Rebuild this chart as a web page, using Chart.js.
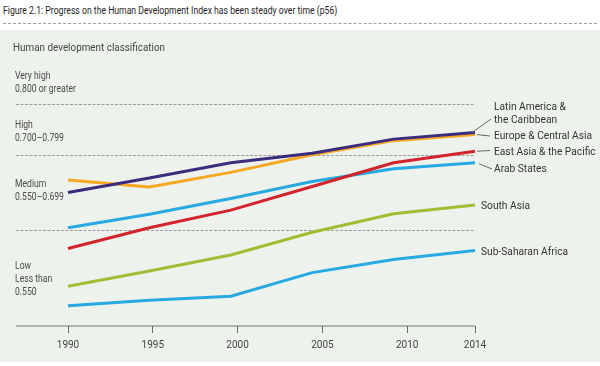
<!DOCTYPE html>
<html>
<head>
<meta charset="utf-8">
<script src="https://cdn.jsdelivr.net/npm/chart.js@4.4.1/dist/chart.umd.min.js"></script>
<style>
  body { margin: 0; background: #fff; }
  #wrap { position: relative; width: 600px; height: 366px; overflow: hidden; }
  #title { position: absolute; left: 3px; top: 3px; font: 11.5px Roboto, sans-serif; color: #1e1e1e; white-space: nowrap; transform-origin: 0 0; }
  #rule { position: absolute; left: 3px; right: 3px; top: 23px; border-top: 1px dashed #a0a0a0; }
  #panel { position: absolute; left: 0; top: 30px; width: 600px; height: 332px; background: #eef2ed; }
  canvas { position: absolute; left: 0; top: 0; }
</style>
</head>
<body>
<div id="wrap">
  <div id="title">Figure 2.1: Progress on the Human Development Index has been steady over time (p56)</div>
  <div id="rule"></div>
  <div id="panel"></div>
  <canvas id="out" width="600" height="366"></canvas>
</div>
<script>
const FONT = "Roboto, sans-serif";

// data (HDI values)
const years = ["1990", "1995", "2000", "2005", "2010", "2014"];
const tickYears = [1990, 1995, 2000, 2005, 2010, 2014];
const latinAmerica = [0.625, 0.654, 0.684, 0.703, 0.731, 0.744];
const europeCentralAsia = [0.650, 0.636, 0.665, 0.700, 0.728, 0.740];
const eastAsiaPacific = [0.514, 0.555, 0.590, 0.637, 0.684, 0.707];
const arabStates = [0.555, 0.582, 0.613, 0.647, 0.672, 0.684];
const southAsia = [0.439, 0.469, 0.501, 0.546, 0.583, 0.600];
const subSaharanAfrica = [0.400, 0.411, 0.419, 0.466, 0.492, 0.510];
const thresholds = [0.8, 0.7, 0.55];
const bandLabels = [
  ["Very high", "0.800 or greater"],
  ["High", "0.700\u20130.799"],
  ["Medium", "0.550\u20130.699"],
  ["Low", "Less than", "0.550"]
];
const seriesNames = [
  ["Latin America &", "the Caribbean"],
  ["Europe & Central Asia"],
  ["East Asia & the Pacific"],
  ["Arab States"],
  ["South Asia"],
  ["Sub-Saharan Africa"]
];

// where the side texts sit
const bandTop = [76, 125, 184, 266];
const labelPos = [
  {x: 494, y: 107, leader: [-3, 0, 491, 119]},
  {x: 494, y: 136, leader: [2, 0, 490, 136]},
  {x: 494, y: 152, leader: [2, 0, 490, 150.5]},
  {x: 494, y: 169, leader: [4, 1, 492, 169]},
  {x: 481, y: 206},
  {x: 481, y: 252}
];

// the original uses a condensed face; squeeze Roboto to the same widths
function squeeze(ctx, sample, width) {
  return width / ctx.measureText(sample).width;
}
function narrowText(ctx, s, x, y, k) {
  ctx.save();
  ctx.translate(x, y);
  ctx.scale(k, 1);
  ctx.fillText(s, 0, 0);
  ctx.restore();
}

const titleEl = document.getElementById("title");
titleEl.style.transform = "scaleX(" + (334 / titleEl.offsetWidth) + ")";

const decorations = {
  id: "decorations",
  beforeDatasetsDraw(chart) {
    const {ctx, chartArea, scales} = chart;
    ctx.save();
    ctx.strokeStyle = "#9c9c9c";
    ctx.lineWidth = 1;
    ctx.setLineDash([3, 1.5]);
    thresholds.forEach(t => {
      const py = Math.round(scales.y.getPixelForValue(t)) + 0.5;
      ctx.beginPath();
      ctx.moveTo(16, py);
      ctx.lineTo(chartArea.right, py);
      ctx.stroke();
    });
    ctx.setLineDash([]);
    ctx.strokeStyle = "#737373";
    ctx.lineWidth = 1.2;
    ctx.beginPath();
    ctx.moveTo(16, chartArea.bottom);
    ctx.lineTo(chartArea.right, chartArea.bottom);
    ctx.stroke();

    ctx.fillStyle = "#444";
    ctx.textBaseline = "middle";
    ctx.font = "10.5px " + FONT;
    const s = "Human development classification";
    narrowText(ctx, s, 13, 48, squeeze(ctx, s, 152));
    ctx.fillStyle = "#4a4a4a";
    ctx.font = "10px " + FONT;
    const k = squeeze(ctx, "0.800 or greater", 61);
    bandLabels.forEach((lines, i) => {
      lines.forEach((t, j) => narrowText(ctx, t, 15, bandTop[i] + j * 13.3, k));
    });
    ctx.restore();
  },
  afterDatasetsDraw(chart) {
    const {ctx} = chart;
    ctx.save();
    ctx.fillStyle = "#333";
    ctx.strokeStyle = "#666";
    ctx.lineWidth = 1;
    ctx.textBaseline = "middle";
    ctx.font = "11.5px " + FONT;
    const k = squeeze(ctx, "Europe & Central Asia", 98);
    seriesNames.forEach((lines, i) => {
      const p = labelPos[i];
      const meta = chart.getDatasetMeta(i);
      const last = meta.data[meta.data.length - 1];
      if (p.leader) {
        ctx.beginPath();
        ctx.moveTo(last.x + p.leader[0], last.y + p.leader[1]);
        ctx.lineTo(p.leader[2], p.leader[3]);
        ctx.stroke();
      }
      lines.forEach((t, j) => narrowText(ctx, t, p.x, p.y + j * 13, k));
    });
    ctx.restore();
  }
};

function series(data, color) {
  return {
    data: data,
    borderColor: color,
    borderWidth: 3,
    pointRadius: 0,
    tension: 0,
    fill: false
  };
}

const chartConfig = {
  type: "line",
  data: {
    labels: years,
    datasets: [
      series(latinAmerica, "#3b2c7e"),
      series(europeCentralAsia, "#f6a823"),
      series(eastAsiaPacific, "#d3232b"),
      series(arabStates, "#27a9e1"),
      series(southAsia, "#a0bd33"),
      series(subSaharanAfrica, "#27a9e1")
    ]
  },
  options: {
    responsive: false,
    animation: false,
    layout: {padding: {left: 68, right: 125, top: 54, bottom: 9}},
    plugins: {legend: {display: false}, tooltip: {enabled: false}},
    scales: {
      x: {type: "category", display: false, offset: false},
      x2: {
        type: "linear",
        position: "bottom",
        min: 1990,
        max: 2014,
        afterBuildTicks: axis => { axis.ticks = tickYears.map(v => ({value: v})); },
        ticks: {
          callback: v => String(v),
          color: "#444",
          font: {family: FONT, size: 10},
          padding: 6,
          maxRotation: 0,
          autoSkip: false
        },
        grid: {drawOnChartArea: false, drawTicks: true, tickLength: 7, color: "#666", lineWidth: 1},
        border: {display: false}
      },
      y: {type: "linear", display: false, min: 0.36, max: 0.9}
    }
  },
  plugins: [decorations]
};

window.chart = new Chart(document.getElementById("out").getContext("2d"), chartConfig);
</script>
</body>
</html>
